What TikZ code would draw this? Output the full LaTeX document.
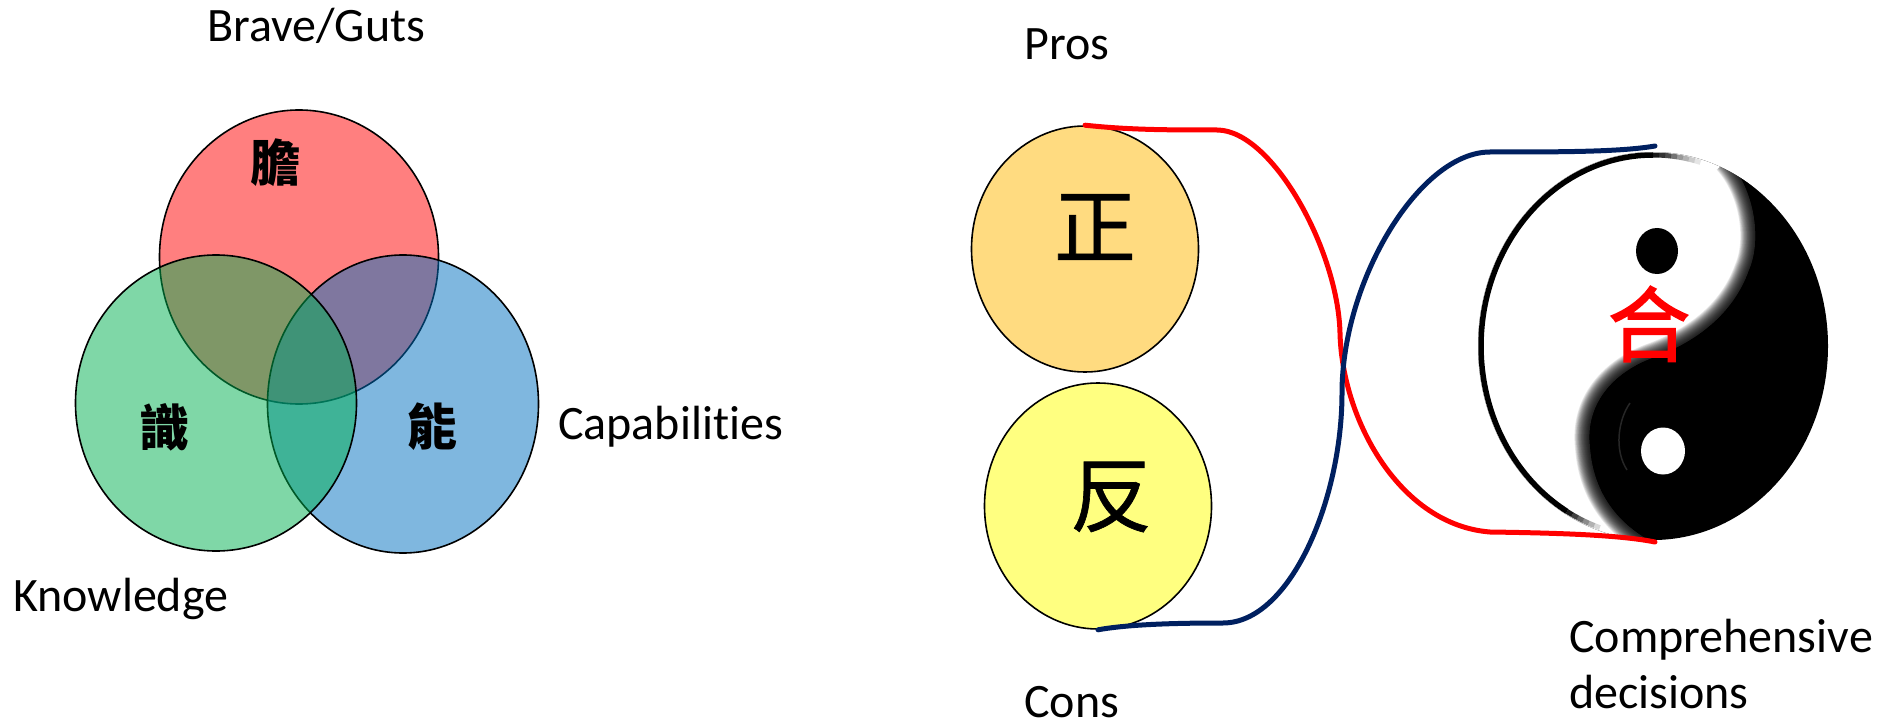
\documentclass[tikz,border=0pt]{standalone}
\usepackage{fontspec}
\setmainfont[Ligatures=NoCommon]{Carlito}
\newfontfamily\cjk{Noto Sans CJK TC}
\newfontfamily\cjkbig[FakeBold=0.8]{Noto Sans CJK TC}
\newfontfamily\cjkhe[FakeBold=2]{Noto Sans CJK TC}
\usetikzlibrary{shapes.geometric}

\definecolor{navyline}{HTML}{002060}
\definecolor{vennblue}{HTML}{0070C0}
\definecolor{venngreen}{HTML}{00B050}
\definecolor{prosfill}{HTML}{FFDB80}
\definecolor{consfill}{HTML}{FFFF80}

\tikzset{
    venn/.style = {
        ellipse, draw = black, line width = 1.6pt, inner sep = 0pt,
        fill opacity = 0.5, draw opacity = 1},
    side/.style = {
        ellipse, draw = black, line width = 1.6pt, inner sep = 0pt,
        minimum width = 227pt, minimum height = 246pt},
    caption/.style = {anchor = base west, inner sep = 0pt, font = \fontsize{48}{56}\selectfont},
    glyph/.style = {inner sep = 0pt, font = \cjk\bfseries\fontsize{50}{50}\selectfont},
    bigglyph/.style = {inner sep = 0pt, font = \cjkbig\fontsize{82}{82}\selectfont},
    link/.style = {line width = 5pt, line cap = round}
}

\begin{document}
\begin{tikzpicture}[x = 1pt, y = -1pt]
    \useasboundingbox (0,0) rectangle (1879,722);

    % three circles
    \node (brave) [venn, fill = red, minimum width = 279pt, minimum height = 294pt] at (299,257) {};
    \node (capab) [venn, fill = vennblue, minimum width = 271pt, minimum height = 298pt] at (403,404) {};
    \node (knowl) [venn, fill = venngreen, minimum width = 281pt, minimum height = 296pt] at (216,403) {};
    \node (dan) [glyph] at (275,163) {膽};
    \node (shi) [glyph] at (164,427) {識};
    \node (neng) [glyph] at (432,427) {能};
    \node (bravetxt) [caption] at (207,42) {Brave/Guts};
    \node (capabtxt) [caption] at (558,439) {Capabilities};
    \node (knowltxt) [caption] at (13,611) {Knowledge};

    % pros and cons
    \node (pro) [side, fill = prosfill] at (1085,249) {};
    \node (con) [side, fill = consfill] at (1098,506) {};
    \node (zheng) [bigglyph] at (1095,227) {正};
    \node (fan) [bigglyph] at (1111,497) {反};
    \node (protxt) [caption] at (1024,60) {Pros};
    \node (contxt) [caption] at (1024,717) {Cons};

    % yin yang
    \node (heyang) [ellipse, fill = black, inner sep = 0pt, minimum width = 350pt, minimum height = 388pt] at (1653,346) {};
    \begin{scope}
        \clip (heyang.center) ellipse [x radius = 175, y radius = 194];
        \def\sline{(1728,160) .. controls (1755,190) and (1762,240) .. (1749,270)
            .. controls (1733,315) and (1695,342) .. (1655,357)
            .. controls (1612,372) and (1585,405) .. (1590,447)
            .. controls (1593,490) and (1615,522) .. (1652,542)}
        \fill [white] \sline -- (1652,560) -- (1450,560) -- (1450,130) -- (1728,130) -- cycle;
        \foreach \w in {30,28.5,...,1}
            \draw [black, opacity = 0.09, line width = \w pt] \sline;
    \end{scope}
    \draw [black!85!white, line width = 1.5pt] (1630,403) .. controls (1618,420) and (1614,450) .. (1627,470);
    \draw [line width = 5.5pt] plot [smooth, domain = 90:240, samples = 60] ({1653+172*cos(\x)},{346-191*sin(\x)});
    \foreach \a/\o in {90/.9,88/.8,86/.7,84/.55,82/.4,80/.3,78/.2,76/.1}
        \draw [line width = 5pt, opacity = \o] plot [domain = \a:\a-2, samples = 3] ({1653+172*cos(\x)},{346-191*sin(\x)});
    \foreach \a/\o in {240/.9,242/.75,244/.6,246/.45,248/.3,250/.15}
        \draw [line width = 5pt, opacity = \o] plot [domain = \a:\a+2, samples = 3] ({1653+172*cos(\x)},{346-191*sin(\x)});
    \node (dotb) [ellipse, fill = black, inner sep = 0pt, minimum width = 42pt, minimum height = 46pt] at (1657,251) {};
    \node (dotw) [ellipse, fill = white, inner sep = 0pt, minimum width = 44pt, minimum height = 47pt] at (1663,451) {};
    \node (he) [bigglyph, text = red, font = \cjkhe\fontsize{82}{82}\selectfont] at (1649,324) {合};
    \node (comp) [caption, align = left, anchor = north west] at (1569,619) {Comprehensive\\decisions};
    \coordinate (hetop) at (1655,146);
    \coordinate (hebot) at (1655,542);

    % connectors
    \draw [link, red] (pro.north) .. controls (1130,130) and (1170,130) .. (1217,130)
        .. controls (1272,130) and (1338,250) .. (1340,333)
        .. controls (1342,420) and (1400,525) .. (1490,532)
        .. controls (1560,533) and (1620,535) .. (hebot);
    \draw [link, navyline] (con.south) .. controls (1130,624) and (1180,623) .. (1223,623)
        .. controls (1290,623) and (1342,500) .. (1342,393)
        .. controls (1342,280) and (1420,152) .. (1490,152)
        .. controls (1560,152) and (1620,152) .. (hetop);
\end{tikzpicture}
\end{document}
